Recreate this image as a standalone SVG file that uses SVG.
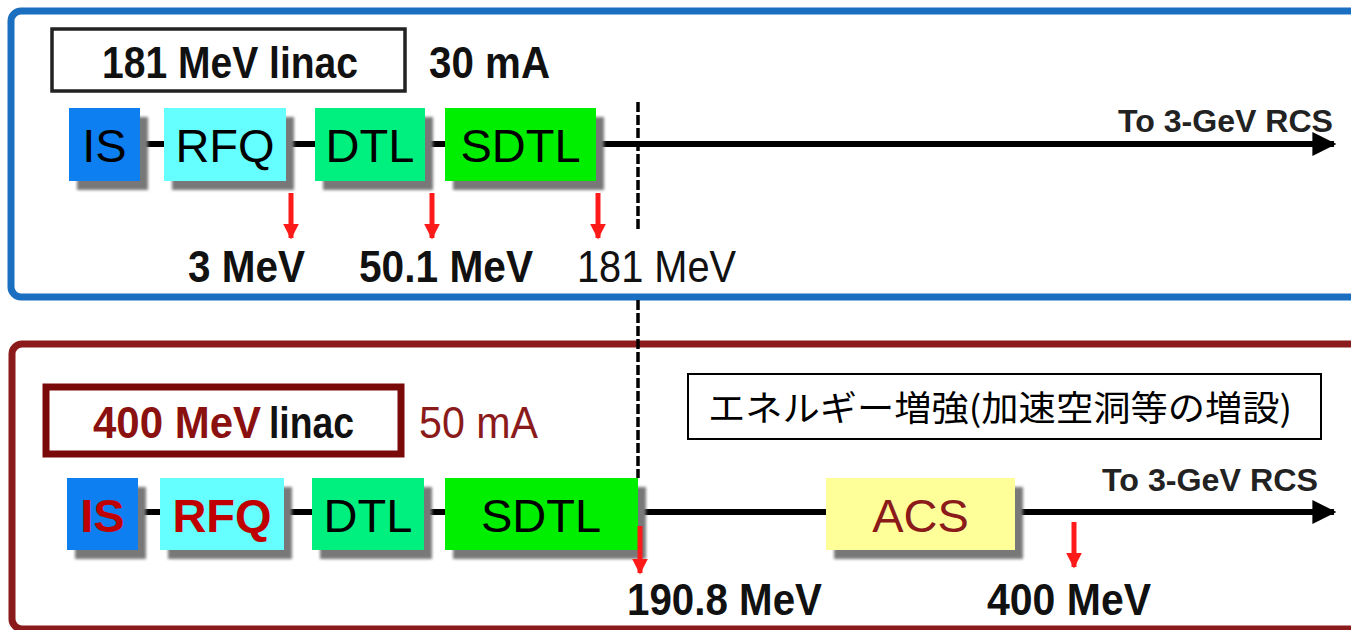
<svg xmlns="http://www.w3.org/2000/svg" width="1351" height="630" viewBox="0 0 1351 630">
<style>
.t{font-family:"Liberation Sans",Arial,sans-serif}
.b{font-weight:bold}
.box{stroke:none}
.lbl{font-size:44px;fill:#111}
.blk{font-size:47px;text-anchor:middle}
.rcs{font-size:32px;font-weight:bold;fill:#222;text-anchor:end}
.beam{stroke:#000;stroke-width:6;fill:none}
.dash{stroke:#000;stroke-width:3.5;stroke-dasharray:10 3;fill:none}
.red{stroke:#ff1a1a;stroke-width:5;fill:none}
.jp{font-family:"Noto Sans CJK JP","Noto Sans",sans-serif;font-size:35px;fill:#000}
</style>
<defs>
<filter id="sh" x="-20%" y="-20%" width="150%" height="160%">
<feDropShadow dx="8" dy="9" stdDeviation="1.8" flood-color="#787878" flood-opacity="1"/>
</filter>
<marker id="ah" viewBox="0 0 10 10" refX="9" refY="5" markerWidth="4" markerHeight="4" orient="auto" markerUnits="strokeWidth">
<path d="M0,0 L10,5 L0,10 Z" fill="#000"/>
</marker>
<marker id="rh" viewBox="0 0 10 10" refX="9" refY="5" markerWidth="3.2" markerHeight="3.4" orient="auto" markerUnits="strokeWidth">
<path d="M0,0 L10,5 L0,10 Z" fill="#ff1a1a"/>
</marker>
</defs>
<rect width="1351" height="630" fill="#fff"/>
<g id="panel-top">
<rect x="11" y="11" width="1360" height="286" rx="10" fill="none" stroke="#1a6fc0" stroke-width="7"/>
</g>
<g id="panel-bottom">
<rect x="12" y="344" width="1360" height="285" rx="10" fill="none" stroke="#8b1a1a" stroke-width="7"/>
</g>
<g id="connectors">
<line class="beam" x1="70" y1="144" x2="1334" y2="144" marker-end="url(#ah)"/>
<line class="beam" x1="68" y1="512" x2="1334" y2="512" marker-end="url(#ah)"/>
<line class="dash" x1="638" y1="102" x2="638" y2="229"/>
<line class="dash" x1="638" y1="300" x2="638" y2="478"/>
</g>
<g id="title-top">
<rect x="52" y="29" width="353" height="62" fill="#fff" stroke="#222" stroke-width="3.5"/>
<text class="t b" x="230" y="78" font-size="45" fill="#111" text-anchor="middle" textLength="256" lengthAdjust="spacingAndGlyphs">181 MeV linac</text>
<text class="t b" x="429" y="78" font-size="45" fill="#111" textLength="121" lengthAdjust="spacingAndGlyphs">30 mA</text>
</g>
<g id="top-IS"><rect class="box" x="69" y="108" width="71" height="73" fill="#0f7ff0" filter="url(#sh)"/><text class="t blk" x="104.5" y="162" fill="#000">IS</text></g>
<g id="top-RFQ"><rect class="box" x="164" y="108" width="122" height="73" fill="#66ffff" filter="url(#sh)"/><text class="t blk" x="225" y="162" fill="#000">RFQ</text></g>
<g id="top-DTL"><rect class="box" x="315" y="108" width="110" height="73" fill="#00f080" filter="url(#sh)"/><text class="t blk" x="370" y="162" fill="#000">DTL</text></g>
<g id="top-SDTL"><rect class="box" x="445" y="108" width="151" height="73" fill="#00ee00" filter="url(#sh)"/><text class="t blk" x="520.5" y="162" fill="#000">SDTL</text></g>
<g id="top-labels">
<text class="t b lbl" x="188" y="282" textLength="117" lengthAdjust="spacingAndGlyphs">3 MeV</text>
<text class="t b lbl" x="359" y="282" textLength="174" lengthAdjust="spacingAndGlyphs">50.1 MeV</text>
<text class="t lbl" x="577" y="282" textLength="159" lengthAdjust="spacingAndGlyphs">181 MeV</text>
<text class="t rcs" x="1333" y="132" textLength="215" lengthAdjust="spacingAndGlyphs">To 3-GeV RCS</text>
</g>
<g id="title-bottom">
<rect x="46" y="387" width="355" height="67" fill="#fff" stroke="#7a0a0a" stroke-width="7"/>
<text class="t b" x="93" y="438" font-size="45" fill="#8b1010" textLength="168" lengthAdjust="spacingAndGlyphs">400 MeV</text>
<text class="t b" x="269" y="438" font-size="45" fill="#111" textLength="85" lengthAdjust="spacingAndGlyphs">linac</text>
<text class="t" x="419" y="438" font-size="44" fill="#8b1a1a" textLength="119" lengthAdjust="spacingAndGlyphs">50 mA</text>
</g>
<g id="note">
<rect x="688" y="374" width="633" height="65" fill="#fff" stroke="#000" stroke-width="2"/>
<text class="jp" x="708" y="421" textLength="584" lengthAdjust="spacingAndGlyphs">エネルギー増強(加速空洞等の増設)</text>
</g>
<g id="bot-IS"><rect class="box" x="67" y="478" width="71" height="72" fill="#0f7ff0" filter="url(#sh)"/><text class="t blk b" x="102.5" y="532" fill="#c00000">IS</text></g>
<g id="bot-RFQ"><rect class="box" x="160" y="478" width="124" height="72" fill="#66ffff" filter="url(#sh)"/><text class="t blk b" x="222" y="532" fill="#c00000">RFQ</text></g>
<g id="bot-DTL"><rect class="box" x="312" y="478" width="112" height="72" fill="#00f080" filter="url(#sh)"/><text class="t blk" x="368" y="532" fill="#000">DTL</text></g>
<g id="bot-SDTL"><rect class="box" x="445" y="478" width="193" height="72" fill="#00ee00" filter="url(#sh)"/><text class="t blk" x="541" y="532" fill="#000">SDTL</text></g>
<g id="bot-ACS"><rect class="box" x="826" y="478" width="189" height="72" fill="#ffff99" filter="url(#sh)"/><text class="t blk" x="920.5" y="532" fill="#8b1a1a">ACS</text></g>
<g id="energy-arrows">
<line class="red" x1="291" y1="193" x2="291" y2="238" marker-end="url(#rh)"/>
<line class="red" x1="432" y1="193" x2="432" y2="238" marker-end="url(#rh)"/>
<line class="red" x1="598" y1="193" x2="598" y2="238" marker-end="url(#rh)"/>
<line class="red" x1="640" y1="526" x2="640" y2="573" marker-end="url(#rh)"/>
<line class="red" x1="1074" y1="522" x2="1074" y2="567" marker-end="url(#rh)"/>
</g>
<g id="bottom-labels">
<text class="t b lbl" x="627" y="615" textLength="195" lengthAdjust="spacingAndGlyphs">190.8 MeV</text>
<text class="t b lbl" x="987" y="615" textLength="164" lengthAdjust="spacingAndGlyphs">400 MeV</text>
<text class="t rcs" x="1318" y="491" textLength="216" lengthAdjust="spacingAndGlyphs">To 3-GeV RCS</text>
</g>
</svg>
